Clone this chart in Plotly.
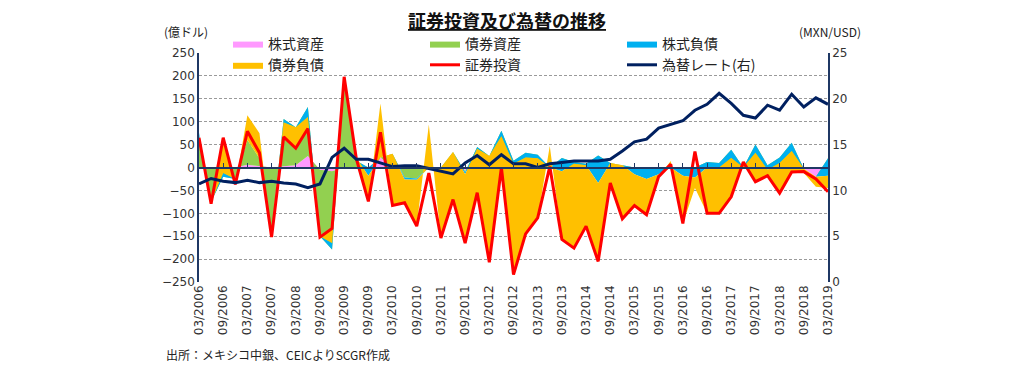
import plotly.graph_objects as go

# ---------------- data (quarterly, 03/2006 .. 03/2019) ----------------
quarters = [f"{m:02d}/{y}" for y in range(2006, 2020) for m in (3, 6, 9, 12)][:53]
x_idx = list(range(len(quarters)))

# stacked components (億ドル)
equity_assets = [0, 0, 0, 0, 6, 3, 0, 3, 5, 25, -5, -8, 0, 0, 0, 22, 0, 0, 0, 0,
                 0, 0, -6, 0, 0, 0, 0, 0, 0, 0, 0, 0, 0, 0, 0, 0, 0, 0, 0, 0,
                 0, 0, 0, 0, 0, 0, 0, 0, 0, 0, -3, -20, 0]
bond_assets = [70, -75, -20, -25, 54, 17, -140, 103, 83, 107, -145, -171, 195, 15, 0, 0, 30, -22, -24, 0,
               0, 34, -4, 45, 25, 80, 15, 32, 28, 0, 21, 12, 8, 26, 10, 5, 0, 0, 0, 0,
               0, 0, 12, 10, 39, 0, 50, 5, 22, 54, 0, 0, 20]
equity_liab = [6, 0, 8, 0, 0, 0, 0, -8, 0, -22, 0, 14, 0, 7, -18, 0, 0, -4, -3, 0,
               0, 0, -5, -4, 0, -12, -7, -10, -8, 0, -29, -4, -3, -60, 0, 0, -15, -25, -15, 0,
               -18, -22, -12, -10, -18, 0, -18, -10, -12, -18, 0, 0, -38]
bond_liab = [0, -4, 77, -12, 54, 55, -12, -31, -46, -25, -2, 32, 3, 0, -56, 118, -113, -51, -101, 94,
             -154, -104, -150, -96, -232, -68, -242, -167, -130, 47, -149, -184, -133, -171, -44, -117, -68, -78, -5, 14,
             -104, -23, -100, -99, -84, 12, -63, -13, -65, -46, -9, -22, -27]
portfolio_total = [65, -79, 65, -37, 79, 32, -152, 67, 42, 85, -152, -133, 198, 20, -74, 77, -83, -77, -128, -12,
                   -154, -70, -165, -55, -207, 0, -234, -145, -110, 2, -157, -176, -128, -205, -34, -112, -83, -103, -20, 7,
                   -122, 35, -100, -100, -64, 12, -31, -18, -56, -10, -9, -25, -53]
fx_rate = [10.7, 11.3, 11.0, 10.85, 11.1, 10.85, 11.0, 10.8, 10.7, 10.3, 10.7, 13.6, 14.6, 13.4, 13.4, 13.0, 12.6, 12.7, 12.7, 12.4,
           12.1, 11.8, 13.0, 13.8, 12.8, 13.9, 12.9, 12.9, 12.5, 12.9, 13.05, 13.2, 13.2, 13.2, 13.4, 14.3, 15.3, 15.6, 16.8, 17.2,
           17.6, 18.75, 19.4, 20.6, 19.5, 18.2, 17.9, 19.3, 18.75, 20.5, 19.1, 20.1, 19.4]

tick_idx = list(range(0, 53, 2))
tick_text = [quarters[i] for i in tick_idx]
left_ticks = list(range(-250, 251, 50))
right_ticks = list(range(0, 26, 5))

# ---------------- figure ----------------
W, H = 1024, 378
L, R, T, B = 199, 828, 53, 282
def xp(px):
    return (px - L) / (R - L)
def yp(py):
    return (B - py) / (B - T)

JP = "Noto Sans CJK JP"
NUM = "DejaVu Sans"
AXC = "#1F3864"

fig = go.Figure()
areas = [("株式資産", equity_assets, "#FF99FF"),
         ("債券資産", bond_assets, "#92D050"),
         ("株式負債", equity_liab, "#00B0F0"),
         ("債券負債", bond_liab, "#FFC000")]
for name, vals, col in areas:
    fig.add_trace(go.Scatter(x=x_idx, y=vals, name=name, stackgroup="one",
                             mode="lines", line=dict(width=0, color=col),
                             fillcolor=col, hoverinfo="skip"))
fig.add_trace(go.Scatter(x=x_idx, y=portfolio_total, name="証券投資", mode="lines",
                         line=dict(color="#FF0000", width=3)))
fig.add_trace(go.Scatter(x=x_idx, y=fx_rate, name="為替レート(右)", mode="lines",
                         line=dict(color="#002060", width=3), yaxis="y2"))
# invisible trace carrying the zero-line category axis
fig.add_trace(go.Scatter(x=[0, 52], y=[0, 0], xaxis="x2", mode="lines",
                         line=dict(width=0), showlegend=False, hoverinfo="skip"))

fig.update_layout(
    width=W, height=H,
    margin=dict(l=L, r=W - R, t=T, b=H - B, pad=0),
    paper_bgcolor="white", plot_bgcolor="white",
    font=dict(family=NUM, size=12, color="#333333"),
    showlegend=True,
    legend=dict(orientation="h", x=xp(228), y=yp(28), xanchor="left", yanchor="top",
                bgcolor="rgba(0,0,0,0)", font=dict(family=JP, size=14, color="#222222"),
                entrywidth=152, entrywidthmode="pixels", traceorder="normal",
                itemwidth=30),
    xaxis=dict(range=[0, 52], tickmode="array", tickvals=tick_idx, ticktext=tick_text,
               tickangle=-90, showgrid=False, zeroline=False, showline=False,
               ticks="", tickfont=dict(family=NUM, size=12, color="#333333")),
    xaxis2=dict(range=[0, 52], overlaying="x", anchor="free", position=0.5, side="bottom",
                tickmode="array", tickvals=tick_idx, ticks="inside", ticklen=4,
                tickcolor=AXC, showticklabels=False, showline=True, linecolor=AXC,
                linewidth=1.5, showgrid=False, zeroline=False),
    yaxis=dict(range=[-250, 250], tickmode="array", tickvals=left_ticks,
               showgrid=True, gridcolor="#9A9A9A", griddash="3px,2px", gridwidth=1,
               zeroline=False, showline=True, linecolor=AXC, linewidth=1.5,
               ticks="", tickfont=dict(family=NUM, size=12, color="#333333")),
    yaxis2=dict(range=[0, 25], tickmode="array", tickvals=right_ticks, overlaying="y",
                side="right", showgrid=False, zeroline=False, showline=True,
                linecolor=AXC, linewidth=1.5, ticks="",
                tickfont=dict(family=NUM, size=12, color="#333333")),
)

fig.add_annotation(text="<b><u>証券投資及び為替の推移</u></b>", xref="paper", yref="paper",
                   x=xp(507), y=yp(20), xanchor="center", yanchor="middle", showarrow=False,
                   font=dict(family=JP, size=18, color="#111111"))
fig.add_annotation(text="(億ドル)", xref="paper", yref="paper", x=xp(162), y=yp(32),
                   xanchor="left", yanchor="middle", showarrow=False,
                   font=dict(family=JP, size=12, color="#222222"))
fig.add_annotation(text="(MXN/USD)", xref="paper", yref="paper", x=xp(863), y=yp(32),
                   xanchor="right", yanchor="middle", showarrow=False,
                   font=dict(family=JP, size=12, color="#222222"))
fig.add_annotation(text="出所：メキシコ中銀、CEICよりSCGR作成", xref="paper", yref="paper",
                   x=xp(164), y=yp(354), xanchor="left", yanchor="middle", showarrow=False,
                   font=dict(family=JP, size=12, color="#222222"))

fig.write_html("out.html", config={"displayModeBar": False},
               post_script="document.body.style.margin='0px';")
